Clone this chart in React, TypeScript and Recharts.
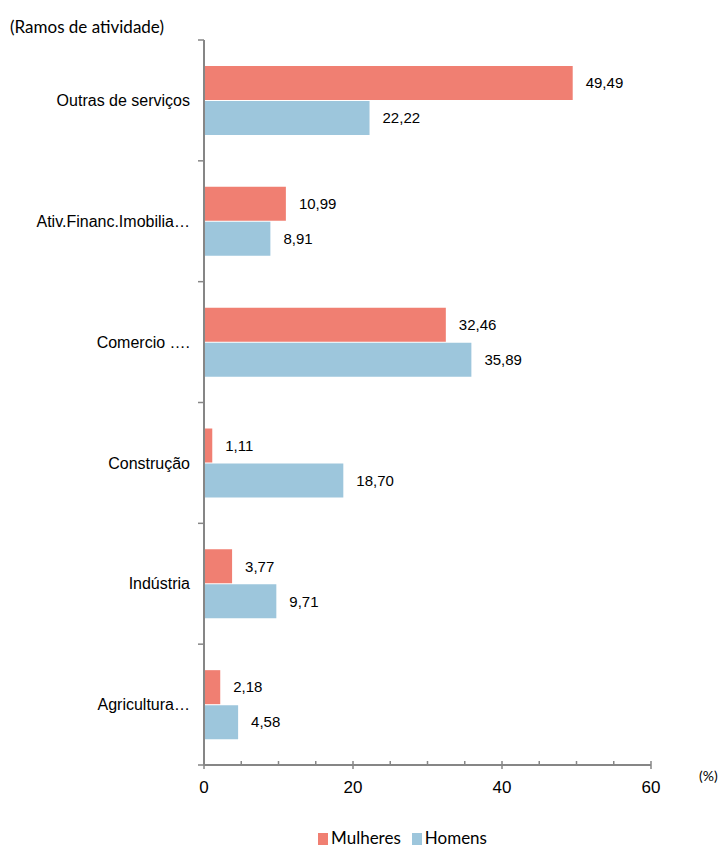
import React from 'react'
import {
  BarChart,
  Bar,
  XAxis,
  YAxis,
  Legend,
  LabelList
} from 'recharts'

const categories = [
  'Outras de serviços',
  'Ativ.Financ.Imobilia…',
  'Comercio ….',
  'Construção',
  'Indústria',
  'Agricultura…'
]
const mulheres = [49.49, 10.99, 32.46, 1.11, 3.77, 2.18]
const homens = [22.22, 8.91, 35.89, 18.7, 9.71, 4.58]
const xTicks = [0, 5, 10, 15, 20, 25, 30, 35, 40, 45, 50, 55, 60]
const xLabels = [0, 20, 40, 60]

const data = categories.map((name, i) => ({
  name,
  mulheres: mulheres[i],
  homens: homens[i]
}))

const AXIS = '#868686'
const RED = '#f07f72'
const BLUE = '#9dc6dc'
const ARIAL = '"Liberation Sans", Arial, sans-serif'
const CAL = 'Lato, "Open Sans", sans-serif'

const fmt = (v: any) => Number(v).toFixed(2).replace('.', ',')

const XTick = (props: any) => {
  const { x, y, payload } = props
  const major = xLabels.includes(payload.value)
  return (
    <g>
      <line x1={x} x2={x} y1={y - 4} y2={major ? y + 4 : y} stroke={AXIS} strokeWidth={1.5} />
      {major && (
        <text x={x} y={y + 28} textAnchor="middle" fontSize={17} fontFamily={ARIAL} fill="#000">
          {payload.value}
        </text>
      )}
    </g>
  )
}

const YTick = (props: any) => {
  const { x, y, payload, index, visibleTicksCount } = props
  const half = payload.offset ?? 0
  return (
    <g>
      <line x1={x - 6} x2={x} y1={y - half} y2={y - half} stroke={AXIS} strokeWidth={1.5} />
      {index === visibleTicksCount - 1 && (
        <line x1={x - 6} x2={x} y1={y + half} y2={y + half} stroke={AXIS} strokeWidth={1.5} />
      )}
      <text x={x - 14} y={y} dy="0.35em" textAnchor="end" fontSize={16} fontFamily={ARIAL} fill="#000">
        {payload.value}
      </text>
    </g>
  )
}

const LegendContent = () => (
  <div style={{ height: 30, display: 'flex', justifyContent: 'center', alignItems: 'center', paddingTop: 8, paddingLeft: 154, boxSizing: 'border-box', fontFamily: CAL, fontSize: 17, color: '#000' }}>
    <span style={{ display: 'inline-block', width: 10, height: 12, background: RED, marginRight: 3, marginTop: 3 }} />
    <span style={{ marginRight: 11 }}>Mulheres</span>
    <span style={{ display: 'inline-block', width: 10, height: 12, background: BLUE, marginRight: 3, marginTop: 3 }} />
    <span>Homens</span>
  </div>
)

export default function App() {
  return (
    <div style={{ position: 'absolute', left: 0, top: 0, width: 721, height: 848, background: '#fff' }}>
      <div style={{ position: 'absolute', left: 10, top: 16, fontFamily: CAL, fontSize: 17, color: '#000' }}>
        (Ramos de atividade)
      </div>
      <div style={{ position: 'absolute', left: 699, top: 767, fontFamily: CAL, fontSize: 14, color: '#000' }}>
        (%)
      </div>
      <BarChart
        width={721}
        height={848}
        data={data}
        layout="vertical"
        margin={{ top: 40, right: 70, left: 0, bottom: 0 }}
        barSize={34}
        barGap={1}
      >
        <XAxis
          type="number"
          domain={[0, 60]}
          ticks={xTicks}
          interval={0}
          height={53}
          tickSize={0}
          tickMargin={0}
          tickLine={false}
          axisLine={{ stroke: AXIS, strokeWidth: 2 }}
          tick={<XTick />}
        />
        <YAxis
          type="category"
          dataKey="name"
          width={204}
          interval={0}
          tickSize={0}
          tickMargin={0}
          tickLine={false}
          axisLine={{ stroke: AXIS, strokeWidth: 2 }}
          tick={<YTick />}
        />
        <Legend verticalAlign="bottom" height={30} content={<LegendContent />} />
        <Bar dataKey="mulheres" name="Mulheres" fill={RED} isAnimationActive={false}>
          <LabelList dataKey="mulheres" position="right" offset={13} formatter={fmt} fontSize={15} fontFamily={ARIAL} fill="#000" />
        </Bar>
        <Bar dataKey="homens" name="Homens" fill={BLUE} isAnimationActive={false}>
          <LabelList dataKey="homens" position="right" offset={13} formatter={fmt} fontSize={15} fontFamily={ARIAL} fill="#000" />
        </Bar>
      </BarChart>
    </div>
  )
}
